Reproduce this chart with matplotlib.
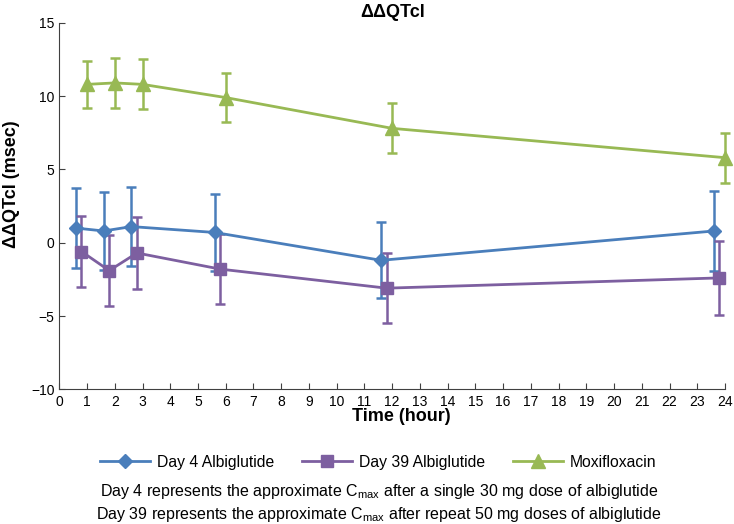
import matplotlib
matplotlib.use("Agg")
import matplotlib.pyplot as plt
import numpy as np

plt.rcParams['font.family'] = ['Liberation Sans', 'DejaVu Sans']
plt.rcParams['mathtext.fontset'] = 'custom'
plt.rcParams['mathtext.rm'] = 'Liberation Sans'
plt.rcParams['mathtext.it'] = 'Liberation Sans'

series_names = ["Day 4 Albiglutide", "Day 39 Albiglutide", "Moxifloxacin"]

day4_time = [0.6, 1.6, 2.6, 5.6, 11.6, 23.6]
day4_mean = [1.0, 0.8, 1.1, 0.7, -1.2, 0.8]
day4_err = [2.7, 2.65, 2.7, 2.6, 2.6, 2.7]

day39_time = [0.8, 1.8, 2.8, 5.8, 11.8, 23.8]
day39_mean = [-0.6, -1.9, -0.7, -1.8, -3.1, -2.4]
day39_err = [2.4, 2.4, 2.45, 2.4, 2.4, 2.5]

moxi_time = [1.0, 2.0, 3.0, 6.0, 12.0, 24.0]
moxi_mean = [10.8, 10.9, 10.8, 9.9, 7.8, 5.8]
moxi_err = [1.6, 1.7, 1.7, 1.7, 1.7, 1.7]

x_ticks = list(range(0, 25))
y_ticks = [-10, -5, 0, 5, 10, 15]

colors = ["#4a7ebb", "#7d5fa0", "#98b954"]
markers = ["D", "s", "^"]
msizes = [7.5, 8.5, 9.5]

fig = plt.figure(figsize=(7.34, 5.24), dpi=100)
ax = fig.add_axes([0.0808, 0.257, 0.907, 0.6995])

handles = []
for t, m, e, c, mk, ms, name in zip(
        [day4_time, day39_time, moxi_time],
        [day4_mean, day39_mean, moxi_mean],
        [day4_err, day39_err, moxi_err],
        colors, markers, msizes, series_names):
    cont = ax.errorbar(t, m, yerr=e, color=c, marker=mk, markersize=ms,
                       linewidth=2, elinewidth=1.8, capsize=3.5, capthick=1.8,
                       label=name, clip_on=False)
    handles.append(cont[0])

ax.set_xlim(0, 24)
ax.set_ylim(-10, 15)
ax.set_xticks(x_ticks)
ax.set_yticks(y_ticks)
ax.set_yticklabels([str(v).replace('-', '\u2212') for v in y_ticks])
ax.tick_params(axis='both', direction='in', length=4, labelsize=10, color='#404040')
ax.tick_params(axis='x', pad=4)
ax.spines['top'].set_visible(False)
ax.spines['right'].set_visible(False)
ax.spines['left'].set_color('#404040')
ax.spines['bottom'].set_color('#404040')

ax.set_title("ΔΔQTcl", fontsize=13, fontweight='bold', pad=4)
ax.set_xlabel("Time (hour)", fontsize=13, fontweight='bold')
ax.xaxis.set_label_coords(0.513, -0.05)
ax.set_ylabel("ΔΔQTcl (msec)", fontsize=13, fontweight='bold')
ax.yaxis.set_label_coords(-0.059, 0.56)

fig.legend(handles, series_names, loc='center', bbox_to_anchor=(0.515, 0.118),
           ncol=3, frameon=False, fontsize=11.3, handlelength=3.2,
           columnspacing=1.8, handletextpad=0.4)

fig.text(0.516, 0.062, r"Day 4 represents the approximate C$_{\mathrm{max}}$ after a single 30 mg dose of albiglutide",
         ha='center', va='center', fontsize=11.5)
fig.text(0.516, 0.019, r"Day 39 represents the approximate C$_{\mathrm{max}}$ after repeat 50 mg doses of albiglutide",
         ha='center', va='center', fontsize=11.5)

fig.savefig("out.png", dpi=100)
